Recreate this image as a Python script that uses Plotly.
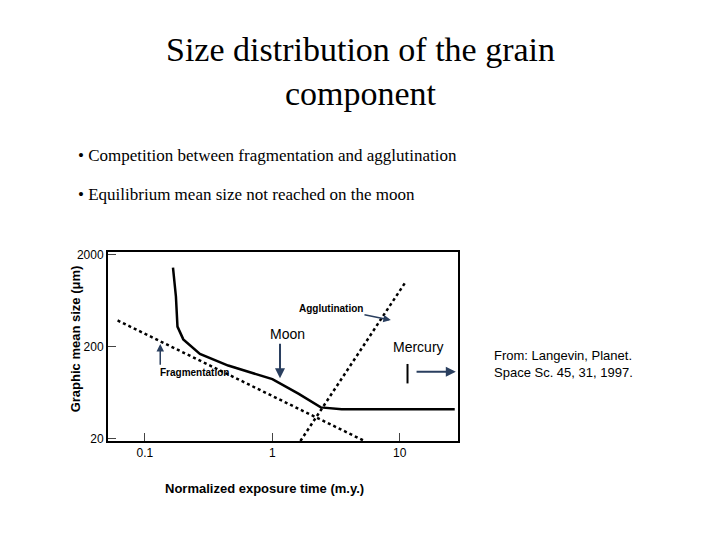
import plotly.graph_objects as go

# values (log-log)
curve_t = [0.166, 0.175, 0.18, 0.2, 0.27, 0.45, 1.0, 1.6, 2.4, 3.5, 10, 27]
curve_d = [1435, 700, 330, 240, 167, 125, 89, 62, 44, 42, 42, 42]
frag_t = [0.061, 5.3]
frag_d = [385, 19]
agg_t = [1.66, 11]
agg_d = [19, 985]
x_ticks = [0.1, 1, 10]
y_ticks = [20, 200, 2000]

fig = go.Figure()
fig.add_trace(go.Scatter(x=curve_t, y=curve_d, mode="lines",
                         line=dict(color="black", width=2.5)))
fig.add_trace(go.Scatter(x=frag_t, y=frag_d, mode="lines",
                         line=dict(color="black", width=2.5, dash="dot")))
fig.add_trace(go.Scatter(x=agg_t, y=agg_d, mode="lines",
                         line=dict(color="black", width=2.5, dash="dot")))

W, H = 720, 540
x0, x1, y0, y1 = 100, 450, 244, 436
axfont = dict(family="Liberation Sans", size=12, color="black")
fig.update_layout(
    width=W, height=H, margin=dict(l=0, r=0, t=0, b=0),
    paper_bgcolor="white", plot_bgcolor="white", showlegend=False,
    xaxis=dict(type="log", range=[-1.29, 1.457], domain=[x0 / W, x1 / W],
               tickvals=x_ticks, ticktext=["0.1", "1", "10"], ticks="inside",
               ticklen=8, showgrid=False, zeroline=False, mirror=True,
               showline=True, linecolor="black", linewidth=2, tickfont=axfont),
    yaxis=dict(type="log", range=[1.28, 3.322], domain=[1 - y1 / H, 1 - y0 / H],
               tickvals=y_ticks, ticktext=["20", "200", "2000"], ticks="inside",
               ticklen=8, showgrid=False, zeroline=False, mirror=True,
               showline=True, linecolor="black", linewidth=2, tickfont=axfont),
)

def ann(text, x, y, **kw):
    fig.add_annotation(text=text, x=x, y=y, xref="paper", yref="paper",
                       showarrow=False, yanchor="middle", **kw)

ann("Size distribution of the grain<br>component", 352 / W, 1 - 60 / H,
    font=dict(family="Liberation Serif", size=34, color="black"))
ann("• Competition between fragmentation and agglutination", 68 / W, 1 - 145 / H,
    xanchor="left", font=dict(family="Liberation Serif", size=17, color="black"))
ann("• Equilibrium mean size not reached on the moon", 68 / W, 1 - 185 / H,
    xanchor="left", font=dict(family="Liberation Serif", size=17, color="black"))
ann("From: Langevin, Planet.<br>Space Sc. 45, 31, 1997.", 484 / W, 1 - 358 / H,
    xanchor="left", align="left",
    font=dict(family="Liberation Sans", size=13, color="black"))
ann("<b>Normalized exposure time (m.y.)</b>", 256 / W, 1 - 484 / H,
    font=dict(family="Liberation Sans", size=13, color="black"))
ann("<b>Graphic mean size (μm)</b>", 58 / W, 1 - 332 / H, textangle=-90,
    font=dict(family="Liberation Sans", size=13, color="black"))

lab = dict(family="Liberation Sans", size=10, color="black")
fig.add_annotation(text="<b>Agglutination</b>", x=0.93, y=2.59, font=lab,
                   ax=0.46, ay=2.72, axref="x", ayref="y",
                   showarrow=True, arrowhead=2, arrowwidth=1.5)
fig.add_annotation(text="", x=-0.88, y=2.33, ax=-0.88, ay=2.09,
                   axref="x", ayref="y", showarrow=True, arrowhead=2,
                   arrowwidth=1.5)
fig.add_annotation(text="<b>Fragmentation</b>", x=-0.61, y=2.02, font=lab,
                   showarrow=False)
fig.add_annotation(text="Moon", x=0.12, y=2.44,
                   font=dict(family="Liberation Sans", size=14, color="black"),
                   showarrow=False)
fig.add_annotation(x=0.06, y=1.96, ax=0.06, ay=2.35, axref="x", ayref="y", text="",
                   showarrow=True, arrowhead=2, arrowwidth=2)
fig.add_annotation(text="Mercury", x=1.15, y=2.3,
                   font=dict(family="Liberation Sans", size=14, color="black"),
                   showarrow=False)
fig.add_annotation(x=1.44, y=2.03, ax=1.12, ay=2.03, axref="x", ayref="y", text="",
                   showarrow=True, arrowhead=2, arrowwidth=2)
fig.add_shape(type="line", x0=11.5, x1=11.5, y0=80, y1=130,
              line=dict(color="black", width=2))

fig.write_html("out.html")
